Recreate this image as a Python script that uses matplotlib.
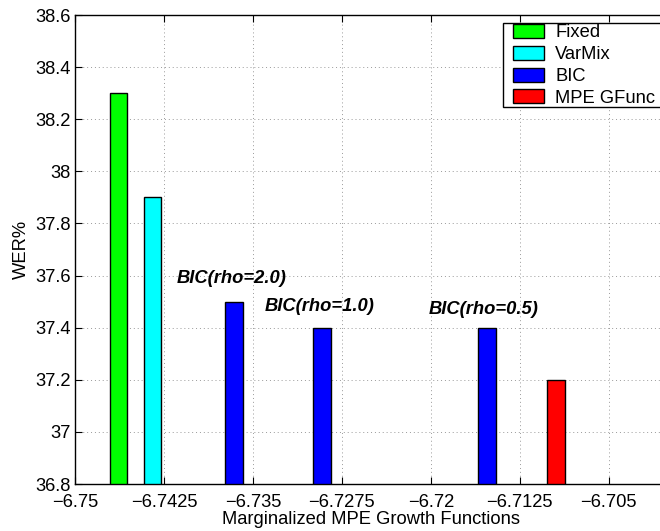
import matplotlib.pyplot as plt
from matplotlib.patches import Patch, Rectangle

plt.rcParams['font.family'] = ['Liberation Sans', 'DejaVu Sans']

# bar centres (log growth value) and WER
names = ['Fixed', 'VarMix', 'BIC', 'BIC', 'BIC', 'MPE GFunc']
xpos = [-6.74633, -6.74345, -6.73658, -6.72919, -6.71526, -6.70944]
wer = [38.3, 37.9, 37.5, 37.4, 37.4, 37.2]
colors = ['#00ff00', '#00ffff', '#0000ff', '#0000ff', '#0000ff', '#ff0000']

notes = ['BIC(rho=2.0)', 'BIC(rho=1.0)', 'BIC(rho=0.5)']
note_x = [-6.74143, -6.73399, -6.72014]
note_y = [37.59, 37.48, 37.47]

xticks = [-6.75, -6.7425, -6.735, -6.7275, -6.72, -6.7125, -6.705]
xticklabels = ['\u22126.75', '\u22126.7425', '\u22126.735', '\u22126.7275',
               '\u22126.72', '\u22126.7125', '\u22126.705']
yticks = [36.8, 37, 37.2, 37.4, 37.6, 37.8, 38, 38.2, 38.4, 38.6]
yticklabels = ['36.8', '37', '37.2', '37.4', '37.6', '37.8', '38', '38.2', '38.4', '38.6']

fs = 13.2

fig = plt.figure(figsize=(6.6, 5.31), dpi=100)
ax = fig.add_axes([0.1136, 0.0885, 0.8985, 0.8832])

ax.bar(xpos, [w - 36.8 for w in wer], bottom=36.8, width=0.00147,
       color=colors, edgecolor='black', linewidth=1.0, zorder=3)

for t, x, y in zip(notes, note_x, note_y):
    ax.text(x, y, t, fontsize=fs, fontweight='bold', style='italic',
            va='center', ha='left', zorder=4)

ax.set_xlim(-6.75, -6.7)
ax.set_ylim(36.8, 38.6)
ax.set_xticks(xticks)
ax.set_xticklabels(xticklabels)
ax.set_yticks(yticks)
ax.set_yticklabels(yticklabels)
ax.tick_params(direction='in', top=True, right=True, labelsize=fs, length=5)
ax.tick_params(axis='x', pad=7)
ax.tick_params(axis='y', pad=3)
ax.grid(True, linestyle=(0, (1, 3)), color='#999999', linewidth=0.7, zorder=0)
for s in ax.spines.values():
    s.set_linewidth(1.0)

ax.set_xlabel('Marginalized MPE Growth Functions', fontsize=fs, labelpad=0)
ax.set_ylabel('WER%', fontsize=fs, labelpad=4)

# legend box (MATLAB style, runs off the right edge)
ax.add_patch(Rectangle((0.7212, 0.8045), 0.35, 0.1791, transform=ax.transAxes,
                       facecolor='white', edgecolor='black', linewidth=1.0,
                       zorder=5, clip_on=False))
handles = [Patch(facecolor=c, edgecolor='black') for c in ['#00ff00', '#00ffff', '#0000ff', '#ff0000']]
leg = ax.legend(handles, ['Fixed', 'VarMix', 'BIC', 'MPE GFunc'], loc='upper left',
                bbox_to_anchor=(0.7356, 0.9846), fontsize=fs, frameon=False,
                borderpad=0.1, labelspacing=0.24,
                handlelength=1.7, handleheight=0.8, handletextpad=0.6, borderaxespad=0)
leg.set_zorder(6)

fig.savefig('out.png', dpi=100)
